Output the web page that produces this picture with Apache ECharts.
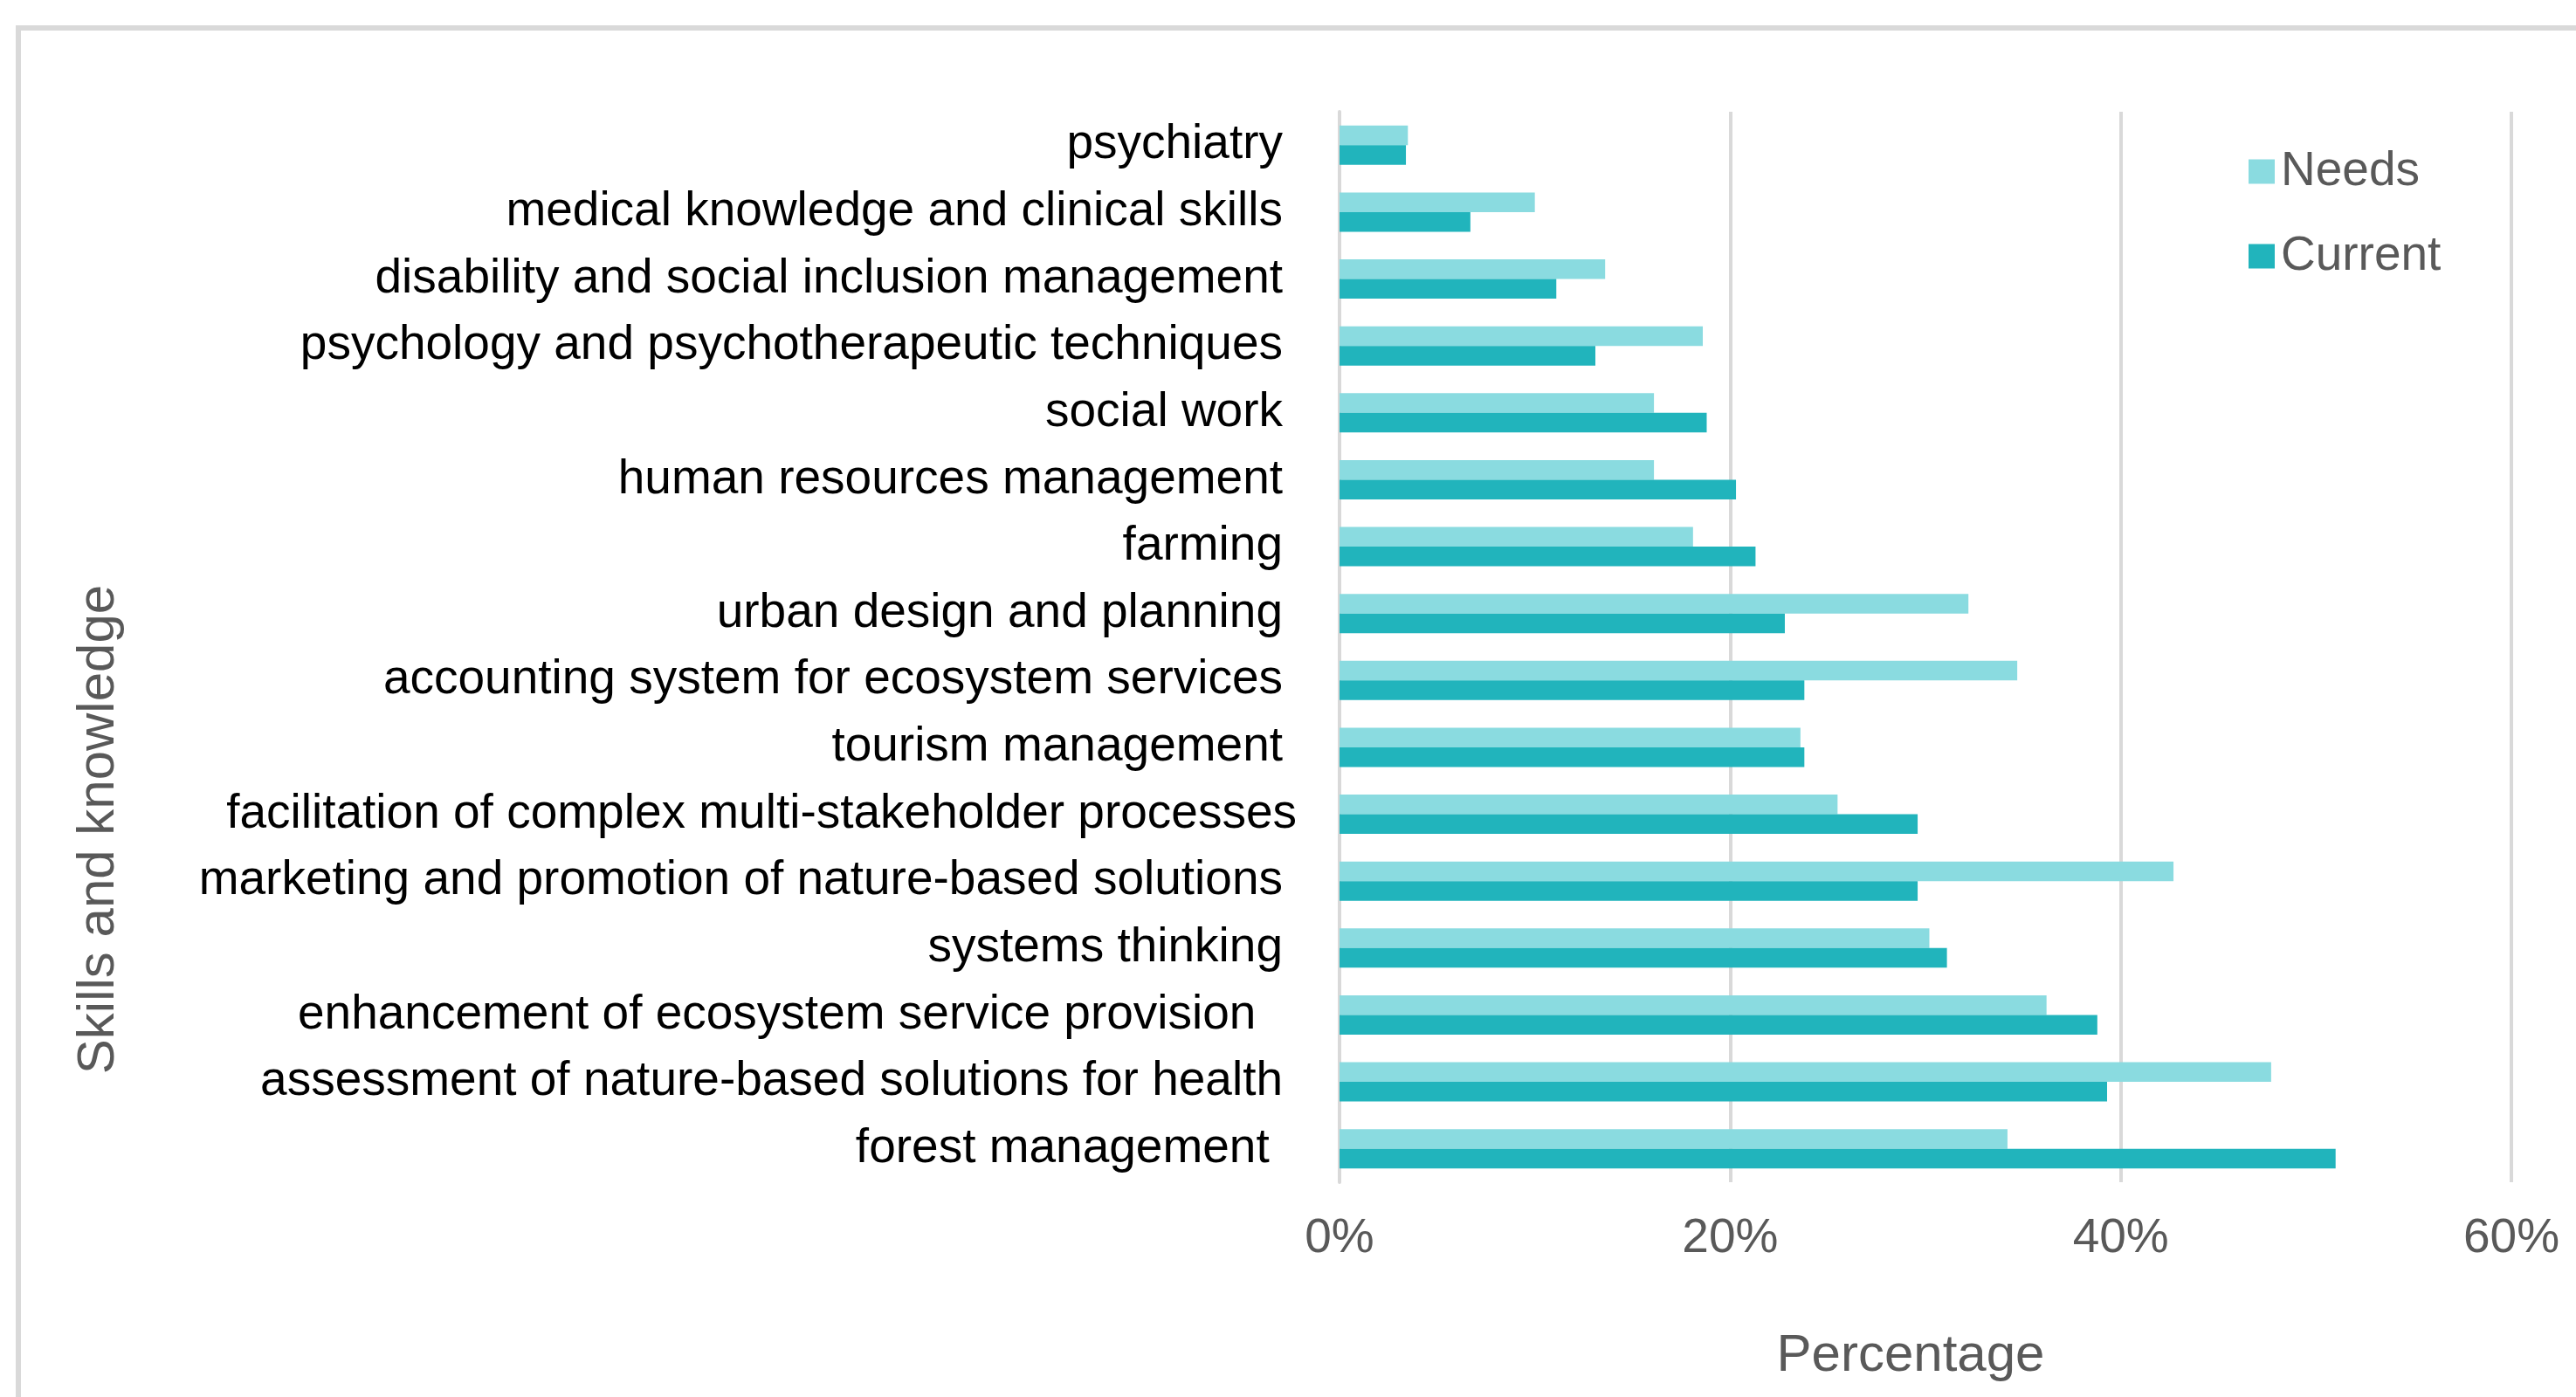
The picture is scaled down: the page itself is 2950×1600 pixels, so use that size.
<!DOCTYPE html>
<html>
<head>
<meta charset="utf-8">
<script src="https://cdn.jsdelivr.net/npm/echarts@6/dist/echarts.min.js"></script>
<style>
html,body{margin:0;padding:0;background:#fff;}
#chart{width:2950px;height:1600px;}
</style>
</head>
<body>
<div id="chart"></div>
<script>
const categories = [
  "psychiatry",
  "medical knowledge and clinical skills",
  "disability and social inclusion management",
  "psychology and psychotherapeutic techniques",
  "social work",
  "human resources management",
  "farming",
  "urban design and planning",
  "accounting system for ecosystem services",
  "tourism management",
  "facilitation of complex multi-stakeholder processes",
  "marketing and promotion of nature-based solutions",
  "systems thinking",
  "enhancement of ecosystem service provision  ",
  "assessment of nature-based solutions for health",
  "forest management "
];
const needs = [3.5, 10.0, 13.6, 18.6, 16.1, 16.1, 18.1, 32.2, 34.7, 23.6, 25.5, 42.7, 30.2, 36.2, 47.7, 34.2];
const current = [3.4, 6.7, 11.1, 13.1, 18.8, 20.3, 21.3, 22.8, 23.8, 23.8, 29.6, 29.6, 31.1, 38.8, 39.3, 51.0];
const xTicks = [0, 20, 40, 60];
const seriesNames = ["Needs", "Current"];

const FONT = "'Liberation Sans', Arial, sans-serif";
const yData = categories.map(function (c) {
  if (c.indexOf('facilitation') === 0) {
    return { value: c, textStyle: { padding: [0, -16, 0, 0] } };
  }
  return c;
});

const chart = echarts.init(document.getElementById('chart'));
chart.setOption({
  animation: false,
  backgroundColor: '#ffffff',
  grid: { left: 1534, right: 74, top: 128, bottom: 246, containLabel: false },
  legend: {
    data: seriesNames,
    orient: 'vertical',
    left: 2570,
    top: 164,
    itemWidth: 30,
    itemHeight: 28,
    itemGap: 42,
    icon: 'rect',
    textStyle: { fontFamily: FONT, fontSize: 55, color: '#595959', lineHeight: 55, padding: [0, 0, 0, 2] }
  },
  xAxis: {
    type: 'value',
    min: xTicks[0],
    max: xTicks[xTicks.length - 1],
    interval: xTicks[1] - xTicks[0],
    name: 'Percentage',
    nameLocation: 'middle',
    nameGap: 169,
    nameTextStyle: { fontFamily: FONT, fontSize: 60, color: '#595959', lineHeight: 60, padding: [0, 34, 0, 0] },
    axisLine: { show: false },
    axisTick: { show: false },
    axisLabel: { formatter: '{value}%', fontFamily: FONT, fontSize: 55, color: '#595959', lineHeight: 55, margin: 37 },
    splitLine: { show: true, lineStyle: { color: '#D9D9D9', width: 4 } }
  },
  yAxis: {
    type: 'category',
    inverse: true,
    data: yData,
    axisLine: { show: true, lineStyle: { color: '#D9D9D9', width: 4 } },
    axisTick: { show: false },
    axisLabel: { fontFamily: FONT, fontSize: 55, color: '#000000', margin: 65 }
  },
  graphic: [
    {
      type: 'rect',
      shape: { x: 21, y: 32, width: 3200, height: 2000 },
      style: { fill: 'none', stroke: '#D9D9D9', lineWidth: 6 },
      silent: true
    },
    {
      type: 'text',
      x: 113,
      y: 950,
      rotation: Math.PI / 2,
      style: {
        text: 'Skills and knowledge',
        fontFamily: FONT,
        fontSize: 60,
        fill: '#595959',
        align: 'center',
        verticalAlign: 'middle'
      }
    }
  ],
  series: [
    {
      name: seriesNames[0],
      type: 'bar',
      data: needs,
      barWidth: 22.5,
      barGap: '0%',
      itemStyle: { color: '#8ADBE0' }
    },
    {
      name: seriesNames[1],
      type: 'bar',
      data: current,
      barWidth: 22.5,
      barGap: '0%',
      itemStyle: { color: '#21B4BC' }
    }
  ]
});
</script>
</body>
</html>
